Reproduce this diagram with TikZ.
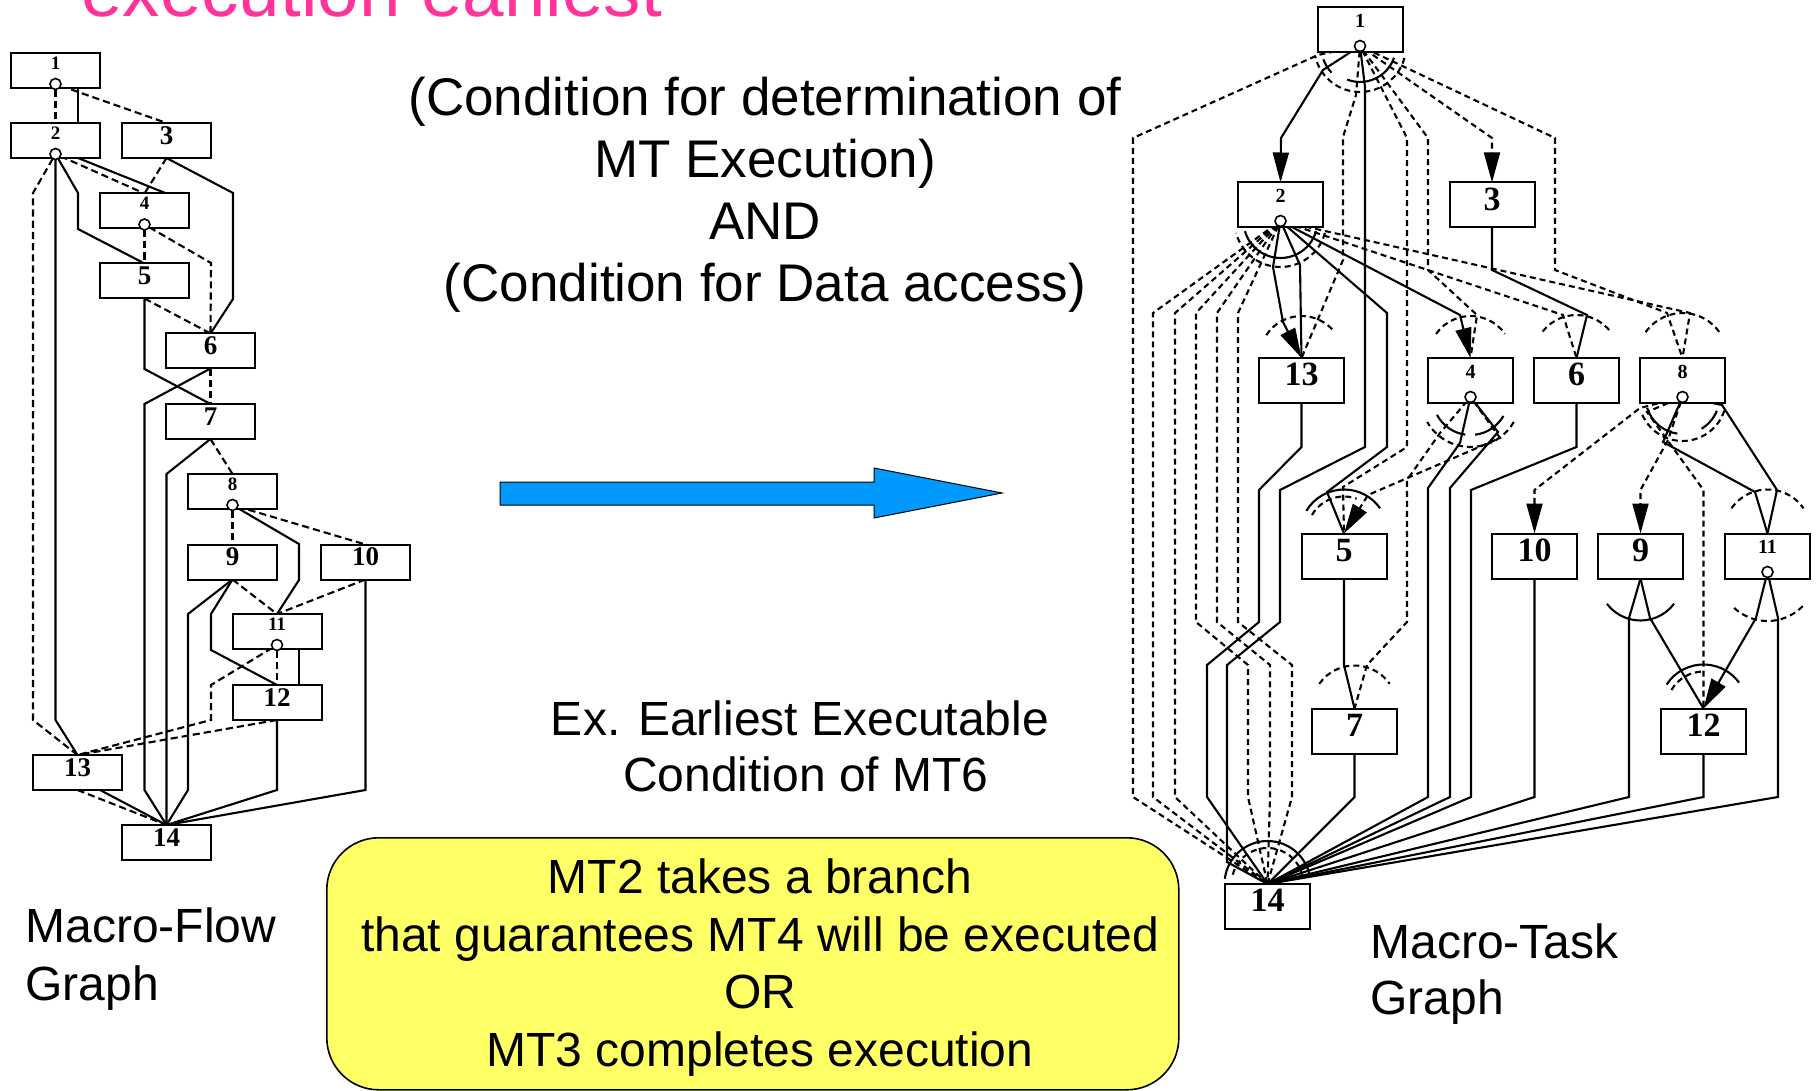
\documentclass[tikz,border=0pt]{standalone}
\usepackage{fontspec}
\newfontfamily\lbsans{Liberation Sans}
\newfontfamily\lbserif{Liberation Serif}
\usetikzlibrary{arrows.meta,calc}
\pgfdeclarelayer{backdrop}
\pgfdeclarelayer{edges}
\pgfsetlayers{backdrop,edges,main}
\definecolor{hotpink}{RGB}{255,51,153}
\definecolor{skyarrow}{RGB}{0,153,255}
\definecolor{notey}{RGB}{255,255,102}
\begin{document}
\begin{tikzpicture}[x=0.5pt,y=-0.5pt,
  lbox/.style={draw,fill=white,line width=1pt,minimum width=44.5pt,minimum height=17.5pt,
    inner sep=0pt,outer sep=0pt,font=\lbserif\bfseries\fontsize{13.5}{13.5}\selectfont,text depth=5pt},
  lbrbox/.style={lbox,font=\lbserif\bfseries\fontsize{9.5}{9.5}\selectfont,text depth=7.5pt},
  rbox/.style={draw,fill=white,line width=1pt,minimum width=42.5pt,minimum height=22.5pt,
    inner sep=0pt,outer sep=0pt,font=\lbserif\bfseries\fontsize{17}{17}\selectfont,text depth=6pt},
  rbrbox/.style={rbox,font=\lbserif\bfseries\fontsize{10}{10}\selectfont,text depth=9pt},
  brc/.style={circle,draw,fill=white,line width=0.8pt,minimum size=5.5pt,inner sep=0pt,outer sep=0pt},
  ctl/.style={line width=1.05pt},
  ldat/.style={line width=1.05pt,dash pattern=on 3.6pt off 2pt},
  rdat/.style={line width=1.05pt,dash pattern=on 3pt off 2pt},
  arrowed/.style={-{Triangle[length=15pt,width=8pt]}},
  cond/.style={font=\lbsans\fontsize{26.5}{31}\selectfont,inner sep=0pt},
  txt/.style={font=\lbsans\fontsize{24}{28}\selectfont,inner sep=0pt}]
\useasboundingbox (0,0) rectangle (1816,1091);
\clip (0,0) rectangle (1816,1091);
\begin{pgfonlayer}{backdrop}
  \fill[white] (0,0) rectangle (1816,1091);
\end{pgfonlayer}

% ---------- Macro-Flow Graph ----------
\node[lbrbox] (L1) at (55.5,70.5) {1};
\node[lbrbox] (L2) at (55.5,140.5) {2};
\node[lbox] (L3) at (166.5,140.5) {3};
\node[lbrbox] (L4) at (144.5,211) {4};
\node[lbox] (L5) at (144.5,281) {5};
\node[lbox] (L6) at (210.5,351) {6};
\node[lbox] (L7) at (210.5,421.5) {7};
\node[lbrbox] (L8) at (232.5,491.5) {8};
\node[lbox] (L9) at (232.5,562) {9};
\node[lbox] (L10) at (365.5,562) {10};
\node[lbrbox] (L11) at (277,631.5) {11};
\node[lbox] (L12) at (277,702.5) {12};
\node[lbox] (L13) at (77.5,772.5) {13};
\node[lbox] (L14) at (166.5,842.5) {14};
\node[brc] (lc1) at (55.5,84) {};
\node[brc] (lc2) at (55.5,154) {};
\node[brc] (lc4) at (144.5,224.5) {};
\node[brc] (lc8) at (232.5,505) {};
\node[brc] (lc11) at (277,645) {};

% ---------- Macro-Task Graph ----------
\node[rbrbox] (R1) at (1360,29.5) {1};
\node[rbrbox] (R2) at (1280.5,205) {2};
\node[rbox] (R3) at (1492,205) {3};
\node[rbox] (R13) at (1301.5,380.5) {13};
\node[rbrbox] (R4) at (1470.5,380.5) {4};
\node[rbox] (R6) at (1576.5,380.5) {6};
\node[rbrbox] (R8) at (1682.5,380.5) {8};
\node[rbox] (R5) at (1344,556) {5};
\node[rbox] (R10) at (1534.5,556) {10};
\node[rbox] (R9) at (1640.5,556) {9};
\node[rbrbox] (R11) at (1767.5,556) {11};
\node[rbox] (R7) at (1354.5,731) {7};
\node[rbox] (R12) at (1703.5,731) {12};
\node[rbox] (R14) at (1267.5,906.5) {14};
\node[brc] (rc1) at (1360,46) {};
\node[brc] (rc2) at (1280.5,221) {};
\node[brc] (rc4) at (1470.5,397) {};
\node[brc] (rc8) at (1682.5,397) {};
\node[brc] (rc11) at (1767.5,572) {};

\begin{pgfonlayer}{edges}
% flow graph: data dependences
\draw[ldat] (lc1) -- (L2.north);
\draw[ldat] (lc1) -- (L3.north);
\draw[ldat] (lc2) -- (33,193) -- (33,720) -- (L13.north);
\draw[ldat] (lc2) -- (L4.north);
\draw[ldat] (L3.south) -- (L4.north);
\draw[ldat] (lc4) -- (L5.north);
\draw[ldat] (lc4) -- (211,263) -- (L6.north);
\draw[ldat] (L5.south) -- (L6.north);
\draw[ldat] (L6.south) -- (L7.north);
\draw[ldat] (L7.south) -- (L8.north);
\draw[ldat] (lc8) -- (L9.north);
\draw[ldat] (lc8) -- (L10.north);
\draw[ldat] (L9.south) -- (L11.north);
\draw[ldat] (L10.south) -- (L11.north);
\draw[ldat] (lc11) -- (L12.north);
\draw[ldat] (lc11) -- (211,685) -- (211,720) -- (L13.north);
\draw[ldat] (L12.south) -- (L13.north);
\draw[ldat] (L13.south) -- (L14.north);
% flow graph: control flow
\draw[ctl] ($(L1.south)+(22.5,0)$) -- ($(L2.north)+(22.5,0)$);
\draw[ctl] (lc2) -- (55.5,720) -- (L13.north);
\draw[ctl] (lc2) -- (78,193) -- (78,229) -- (L5.north);
\draw[ctl] ($(L2.south)+(22.5,0)$) -- ($(L4.north)+(22,0)$);
\draw[ctl] (L3.south) -- (233,193) -- (233,299) -- (L6.north);
\draw[ctl] (L5.south) -- (144.5,369) -- (L7.north);
\draw[ctl] (L6.south) -- (144.5,404) -- (144.5,790) -- (L14.north);
\draw[ctl] (L7.south) -- (166.5,474) -- (L14.north);
\draw[ctl] (lc8) -- (299,544) -- (299,580) -- (L11.north);
\draw[ctl] (L9.south) -- (188,614) -- (188,790) -- (L14.north);
\draw[ctl] (L9.south) -- (211,614) -- (211,650) -- (L12.north);
\draw[ctl] ($(L11.south)+(22,0)$) -- ($(L12.north)+(22,0)$);
\draw[ctl] (L12.south) -- (277,790) -- (L14.north);
\draw[ctl] (L10.south) -- (365.5,790) -- (L14.north);
\draw[ctl] ($(L13.south)+(22.5,0)$) -- (L14.north);

% task graph: control edges
\draw[ctl,arrowed] (rc1) -- (1323,70) -- (1281,138) -- (R2.north);
\draw[ctl] (rc1) -- (1365,87) -- (1365,447) -- (1280,490) -- (1280,622) -- (1227,665) -- (1227,862) -- (R14.north);
\draw[ctl,arrowed] (rc2) -- (1273,267) -- (1283,322) -- (R13.north);
\draw[ctl] (rc2) -- (1300,265) -- (R13.north);
\draw[ctl] (rc2) -- (1387,313) -- (1387,447) -- (1327,492) -- (R5.north);
\draw[ctl,arrowed] (rc2) -- (1460,315) -- (R4.north);
\draw[ctl] (R3.south) -- (1492,270) -- (1587,315) -- (R6.north);
\draw[ctl] (R13.south) -- (1301.5,447) -- (1259,490) -- (1259,622) -- (1207,665) -- (1207,797) -- (R14.north);
\draw[ctl] (rc4) -- (1460,443) -- (1428,488) -- (1428,797) -- (R14.north);
\draw[ctl] (rc4) -- (1498,432) -- (1450,488) -- (1450,797) -- (R14.north);
\draw[ctl] (R6.south) -- (1576.5,447) -- (1471,490) -- (1471,797) -- (R14.north);
\draw[ctl] (R5.south) -- (1344,665) -- (R7.north);
\draw[ctl] (R7.south) -- (1354.5,797) -- (R14.north);
\draw[ctl] (R10.south) -- (1534.5,797) -- (R14.north);
\draw[ctl] (rc8) -- (1663,442) -- (1755,492) -- (R11.north);
\draw[ctl] (rc8) -- (1722,405) -- (1777,490) -- (R11.north);
\draw[ctl] (R9.south) -- (1650,618) -- (R12.north);
\draw[ctl] (R9.south) -- (1629,618) -- (1629,797) -- (R14.north);
\draw[ctl,arrowed] (rc11) -- (1756,618) -- (R12.north);
\draw[ctl] (rc11) -- (1778,618) -- (1778,797) -- (R14.north);
\draw[ctl] (R12.south) -- (1703.5,797) -- (R14.north);

% task graph: data edges
\draw[rdat] (rc1) -- (1318,55) -- (1133,138) -- (1133,797) -- (R14.north);
\draw[rdat] (rc1) -- (1356,95) -- (1343,137) -- (1343,260) -- (R13.north);
\draw[rdat] (rc1) -- (1407,138) -- (1407,447) -- (1343,487) -- (R5.north);
\draw[rdat] (rc1) -- (1428,138) -- (1428,270) -- (1477,315) -- (R4.north);
\draw[rdat,arrowed] (rc1) -- (1492,138) -- (R3.north);
\draw[rdat] (rc1) -- (1555,138) -- (1555,270) -- (1667,313) -- (R8.north);
\draw[rdat] (rc2) -- (1153,313) -- (1153,797) -- (R14.north);
\draw[rdat] (rc2) -- (1175,313) -- (1175,797) -- (R14.north);
\draw[rdat] (rc2) -- (1196,313) -- (1196,622) -- (1248,665) -- (1248,797) -- (R14.north);
\draw[rdat] (rc2) -- (1217,313) -- (1217,622) -- (1270,665) -- (1270,797) -- (R14.north);
\draw[rdat] (rc2) -- (1238,313) -- (1238,622) -- (1292,665) -- (1292,797) -- (R14.north);
\draw[rdat] (rc2) -- (1563,315) -- (R6.north);
\draw[rdat] (rc2) -- (1690,313) -- (R8.north);
\draw[rdat,arrowed] (rc4) -- (1500,438) -- (1368,495) -- (R5.north);
\draw[rdat] (rc4) -- (1440,433) -- (1407,480) -- (1407,622) -- (1367,665) -- (R7.north);
\draw[rdat,arrowed] (rc8) -- (1640,408) -- (1534.5,490) -- (R10.north);
\draw[rdat,arrowed] (rc8) -- (1668,440) -- (1640.5,490) -- (R9.north);
\draw[rdat] (rc8) -- (1647,412) -- (1703.5,490) -- (R12.north);

% task graph: condition arcs below branch points
\draw[ctl] (rc1.center) ++(19:36) arc[start angle=19,end angle=111,radius=36];
\draw[ctl] (rc1.center) ++(137:39) arc[start angle=137,end angle=160,radius=39];
\draw[rdat] (rc1.center) ++(15:46) arc[start angle=15,end angle=168,radius=46];
\draw[ctl] (rc2.center) ++(16:37) arc[start angle=16,end angle=164,radius=37];
\draw[rdat] (rc2.center) ++(15:46) arc[start angle=15,end angle=165,radius=46];
\draw[ctl] (rc4.center) ++(30:38) arc[start angle=30,end angle=83,radius=38];
\draw[ctl] (rc4.center) ++(98:38) arc[start angle=98,end angle=152,radius=38];
\draw[rdat] (rc4.center) ++(30:50) arc[start angle=30,end angle=150,radius=50];
\draw[ctl] (rc8.center) ++(22:37) arc[start angle=22,end angle=59,radius=37];
\draw[ctl] (rc8.center) ++(98:37) arc[start angle=98,end angle=163,radius=37];
\draw[rdat] (rc8.center) ++(18:44) arc[start angle=18,end angle=160,radius=44];
\draw[rdat] (rc11.center) ++(44:49) arc[start angle=44,end angle=137,radius=49];
\draw[ctl] (R9.south) ++(37:42) arc[start angle=37,end angle=143,radius=42];
% task graph: condition arcs above entry points
\draw[rdat] (R13.north) ++(213:42) arc[start angle=213,end angle=322,radius=42];
\draw[rdat] (R4.north) ++(215:42) arc[start angle=215,end angle=325,radius=42];
\draw[rdat] (R6.north) ++(218:43) arc[start angle=218,end angle=322,radius=43];
\draw[rdat] (R8.north) ++(215:45) arc[start angle=215,end angle=325,radius=45];
\draw[ctl] (R5.north) ++(211:44) arc[start angle=211,end angle=325,radius=44];
\draw[rdat] (R5.north) ++(210:37) arc[start angle=210,end angle=290,radius=37];
\draw[rdat] (R7.north) ++(215:43) arc[start angle=215,end angle=325,radius=43];
\draw[rdat] (R11.north) ++(215:44) arc[start angle=215,end angle=325,radius=44];
\draw[ctl] (R12.north) ++(213:44) arc[start angle=213,end angle=324,radius=44];
\draw[rdat] (R12.north) ++(210:37) arc[start angle=210,end angle=270,radius=37];
\draw[ctl] (R14.north) ++(187:43) arc[start angle=187,end angle=346,radius=43];
\draw[rdat] (R14.north) ++(195:36) arc[start angle=195,end angle=345,radius=36];
\end{pgfonlayer}

% ---------- texts ----------
\node[anchor=base west,inner sep=0pt,text=hotpink,font=\lbsans\fontsize{37.3}{40}\selectfont] (head) at (81,17) {execution earliest};
\node[cond,anchor=base] (cA) at (765,116) {(Condition for determination of};
\node[cond,anchor=base] (cB) at (765,178) {MT Execution)};
\node[cond,anchor=base] (cC) at (765,240) {AND};
\node[cond,anchor=base] (cD) at (765,302) {(Condition for Data access)};
\node[txt,anchor=base] (exA) at (800,735) {Ex. Earliest Executable};
\node[txt,anchor=base] (exB) at (806,791) {Condition of MT6};
\node[txt,anchor=base west] (mfA) at (25,942) {Macro-Flow};
\node[txt,anchor=base west] (mfB) at (25,1000) {Graph};
\node[txt,anchor=base west] (mtA) at (1370,958) {Macro-Task};
\node[txt,anchor=base west] (mtB) at (1370,1014) {Graph};

% transformation arrow
\draw[fill=skyarrow,line width=0.5pt] (500,482) -- (874,482) -- (874,468) -- (1002,493) -- (874,518) -- (874,505) -- (500,505) -- cycle;

% condition note
\node[draw,fill=notey,line width=0.8pt,rounded corners=26pt,anchor=north west,
  minimum width=426pt,minimum height=126pt,inner sep=0pt] (note) at (326,837) {};
\node[txt,anchor=base] (nA) at (760,893) {MT2 takes a branch};
\node[txt,anchor=base] (nB) at (760,951) {that guarantees MT4 will be executed};
\node[txt,anchor=base] (nC) at (760,1008) {OR};
\node[txt,anchor=base] (nD) at (760,1066) {MT3 completes execution};
\end{tikzpicture}
\end{document}
